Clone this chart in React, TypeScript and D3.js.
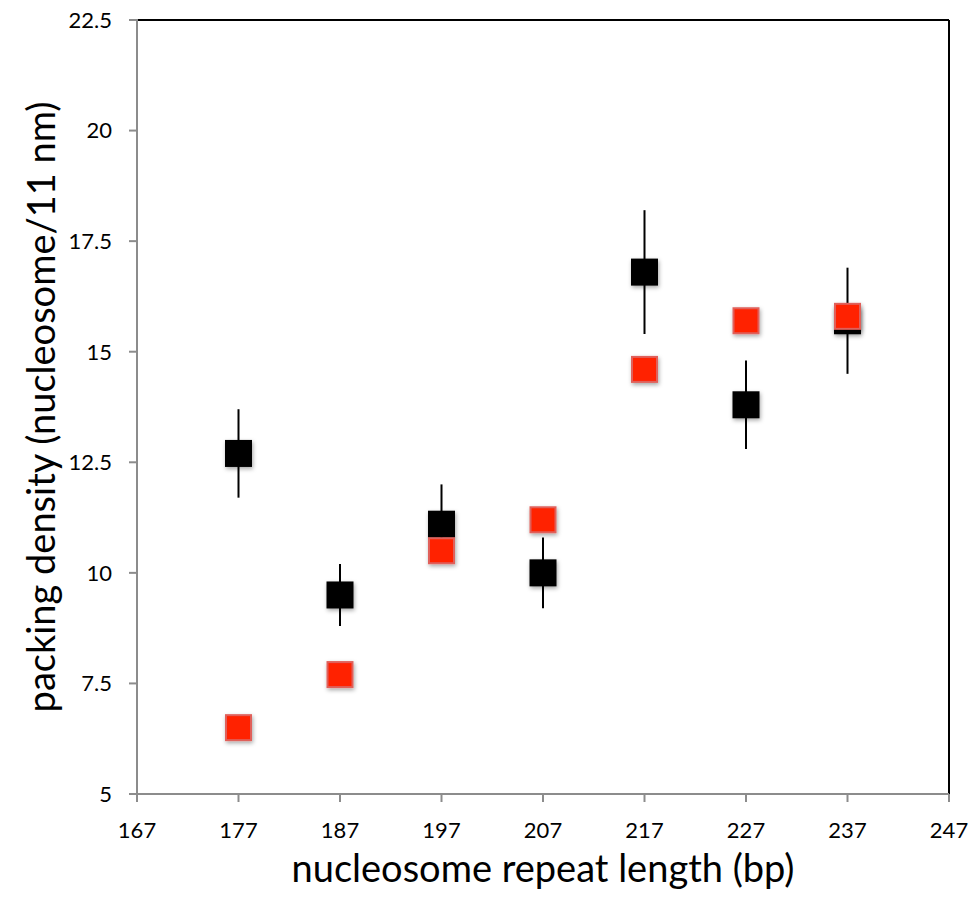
import React from 'react';
import * as d3 from 'd3';

// nucleosome repeat length (bp)
const nrl = [177, 187, 197, 207, 217, 227, 237];
// measured packing density (black) with error half-width
const measured = [12.7, 9.5, 11.1, 10.0, 16.8, 13.8, 15.7];
const measuredErr = [1.0, 0.7, 0.9, 0.8, 1.4, 1.0, 1.2];
// model packing density (red)
const model = [6.5, 7.7, 10.5, 11.2, 14.6, 15.7, 15.8];

const xTicks = [167, 177, 187, 197, 207, 217, 227, 237, 247];
const yTicks = [5, 7.5, 10, 12.5, 15, 17.5, 20, 22.5];

const W = 976;
const H = 905;
const margin = { top: 20, right: 27, bottom: 111, left: 137 };
const FONT = 'Lato, "Open Sans", sans-serif';

export default function App() {
  const x = d3.scaleLinear().domain([167, 247]).range([margin.left, W - margin.right]);
  const y = d3.scaleLinear().domain([5, 22.5]).range([H - margin.bottom, margin.top]);
  const size = 27;
  const fmtY = (v: number) => (Number.isInteger(v) ? String(v) : v.toFixed(1));

  return (
    <svg width={W} height={H} style={{ position: 'absolute', left: 0, top: 0, background: '#fff' }}>
      <defs>
        <filter id="shadow" x="-30%" y="-30%" width="160%" height="160%">
          <feDropShadow dx="1" dy="2" stdDeviation="2" floodColor="#000" floodOpacity="0.35" />
        </filter>
      </defs>

      {/* plot frame: black top/right, gray axes */}
      <line x1={x(167)} x2={x(247)} y1={y(22.5)} y2={y(22.5)} stroke="#000" strokeWidth={2} />
      <line x1={x(247)} x2={x(247)} y1={y(22.5)} y2={y(5)} stroke="#000" strokeWidth={2} />
      <line x1={x(167)} x2={x(167)} y1={y(22.5) - 1} y2={y(5)} stroke="#8c8c8c" strokeWidth={2} />
      <line x1={x(167) - 8} x2={x(247)} y1={y(5)} y2={y(5)} stroke="#8c8c8c" strokeWidth={2} />

      {/* y ticks */}
      {yTicks.map(t => (
        <g key={'y' + t}>
          <line x1={x(167) - 8} x2={x(167)} y1={y(t)} y2={y(t)} stroke="#8c8c8c" strokeWidth={2} />
          <text x={x(167) - 25} y={y(t)} dy="0.36em" textAnchor="end" fontSize={22} fontFamily={FONT} fill="#000">
            {fmtY(t)}
          </text>
        </g>
      ))}

      {/* x ticks */}
      {xTicks.map(t => (
        <g key={'x' + t}>
          <line x1={x(t)} x2={x(t)} y1={y(5)} y2={y(5) + 8} stroke="#8c8c8c" strokeWidth={2} />
          <text x={x(t)} y={y(5) + 44} textAnchor="middle" fontSize={22} fontFamily={FONT} fill="#000">
            {t}
          </text>
        </g>
      ))}

      {/* measured: error bars + black squares */}
      {nrl.map((n, i) => (
        <line key={'e' + n} x1={x(n)} x2={x(n)} y1={y(measured[i] + measuredErr[i])} y2={y(measured[i] - measuredErr[i])}
          stroke="#000" strokeWidth={2} />
      ))}
      {nrl.map((n, i) => (
        <rect key={'b' + n} x={x(n) - size / 2} y={y(measured[i]) - size / 2} width={size} height={size}
          fill="#000" filter="url(#shadow)" />
      ))}

      {/* model: red squares */}
      {nrl.map((n, i) => (
        <rect key={'r' + n} x={x(n) - size / 2 + 1} y={y(model[i]) - size / 2 + 1} width={size - 2} height={size - 2}
          fill="#ff2200" stroke="#e0605a" strokeWidth={2} filter="url(#shadow)" />
      ))}

      {/* axis titles */}
      <text x={(x(167) + x(247)) / 2} y={882} textAnchor="middle" fontSize={38} fontFamily={FONT} fill="#000">
        nucleosome repeat length (bp)
      </text>
      <text transform={`translate(55, ${(y(5) + y(22.5)) / 2}) rotate(-90)`} textAnchor="middle" fontSize={38}
        fontFamily={FONT} fill="#000">
        packing density (nucleosome/11 nm)
      </text>
    </svg>
  );
}
